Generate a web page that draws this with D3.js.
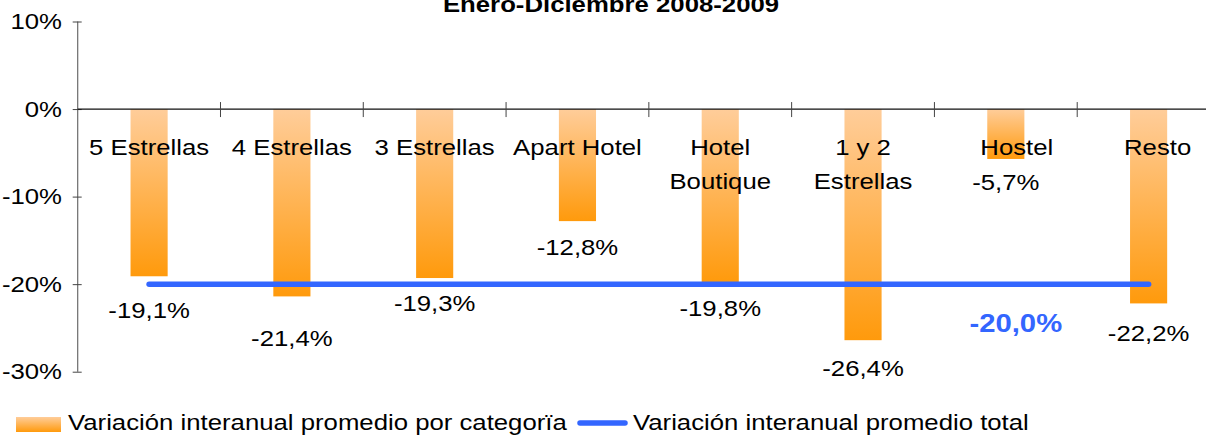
<!DOCTYPE html>
<html>
<head>
<meta charset="utf-8">
<script src="https://cdn.jsdelivr.net/npm/d3@7/dist/d3.min.js"></script>
<style>
  html, body { margin: 0; padding: 0; background: #fff; }
  svg { display: block; }
  text { font-family: "Liberation Sans", Arial, Helvetica, sans-serif; }
</style>
</head>
<body>
<script>
// ---------- data ----------
const title = "Enero-Diciembre 2008-2009";
const categories = ["5 Estrellas", "4 Estrellas", "3 Estrellas", "Apart Hotel", "Hotel\nBoutique", "1 y 2\nEstrellas", "Hostel", "Resto"];
const values = [-19.1, -21.4, -19.3, -12.8, -19.8, -26.4, -5.7, -22.2];
const totalValue = -20.0;
const yTicks = [10, 0, -10, -20, -30];
const legendLabels = ["Variación interanual promedio por categorïa", "Variación interanual promedio total"];

// ---------- layout ----------
const W = 1206, H = 435;
const SX = 1.17;               // horizontal text stretch seen in the reference
const labelDy = [34, 42, 25, 26, 26, 28, 23, 30];
const catDx = [0, 0, 0, 0, 0, 0, 11, 9];
const fmt = v => (v < 0 ? "-" : "") + Math.abs(v).toFixed(1).replace(".", ",") + "%";

const svg = d3.select("body").append("svg").attr("width", W).attr("height", H);

const defs = svg.append("defs");
const grad = defs.append("linearGradient").attr("id", "barGrad")
  .attr("x1", 0).attr("y1", 0).attr("x2", 0).attr("y2", 1);
grad.append("stop").attr("offset", "0%").attr("stop-color", "#FFCD9A");
grad.append("stop").attr("offset", "100%").attr("stop-color", "#FF9A0C");

const y = d3.scaleLinear().domain([-30, 10]).range([371.7, 21.5]);
const x = d3.scaleBand().domain(categories).range([77.7, 1220]).padding(0);
const bw = x.bandwidth() * 0.26;
const cx = c => x(c) + x.bandwidth() / 2;

function stext(g, px, py, str, size, anchor, weight, fill) {
  return g.append("text")
    .attr("transform", `translate(${px},${py}) scale(${SX},1)`)
    .attr("text-anchor", anchor || "middle")
    .attr("font-size", size)
    .attr("font-weight", weight || "normal")
    .attr("fill", fill || "#000")
    .text(str);
}

// title
stext(svg, 611, 12, title, 22, "middle", "bold");

// y axis
const yAxis = svg.append("g").attr("transform", `translate(${77.7},0)`)
  .call(d3.axisLeft(y).tickValues(yTicks).tickSize(5).tickFormat(""));
yAxis.select(".domain").attr("stroke", "#6b6b6b").attr("stroke-width", 1.2)
  .attr("d", `M0,${y(10)}V${y(-30)}`);
yAxis.selectAll(".tick line").attr("x1", -5).attr("x2", 4).attr("stroke", "#444");
yTicks.forEach(t => {
  stext(svg, 62, y(t), (t < 0 ? "-" : "") + Math.abs(t) + "%", 22, "end").attr("dy", "0.35em");
});

// bars
svg.append("g").selectAll("rect").data(values).join("rect")
  .attr("x", (d, i) => cx(categories[i]) - bw / 2)
  .attr("y", y(0))
  .attr("width", bw)
  .attr("height", d => y(d) - y(0))
  .attr("fill", "url(#barGrad)");

// x axis line and boundary ticks
const xAxis = svg.append("g");
xAxis.append("line").attr("x1", 77.7).attr("x2", 1220).attr("y1", y(0)).attr("y2", y(0))
  .attr("stroke", "#111").attr("stroke-width", 1.2);
const edges = categories.map(c => x(c)).slice(1);
xAxis.selectAll("line.tk").data(edges).join("line").attr("class", "tk")
  .attr("x1", d => d).attr("x2", d => d)
  .attr("y1", y(0) - 7).attr("y2", y(0) + 8)
  .attr("stroke", "#444");

// category labels
categories.forEach((c, i) => {
  const lines = c.split("\n");
  lines.forEach((ln, j) => {
    stext(svg, cx(c) + catDx[i], 155 + j * 34, ln, 22, "middle");
  });
});

// total line
const lineGen = d3.line().x(d => cx(d)).y(() => y(totalValue));
svg.append("path").datum([categories[0], categories[categories.length - 1]])
  .attr("d", lineGen)
  .attr("fill", "none").attr("stroke", "#3366FF").attr("stroke-width", 5.5)
  .attr("stroke-linecap", "round");

// value labels
values.forEach((v, i) => {
  stext(svg, cx(categories[i]), y(v) + labelDy[i], fmt(v), 22, "middle").attr("dy", "0.35em");
});
stext(svg, cx(categories[6]) + 10, y(totalValue) + 39, fmt(totalValue), 25, "middle", "bold", "#3366FF")
  .attr("dy", "0.35em");

// legend
const lg = svg.append("g");
lg.append("rect").attr("x", 16).attr("y", 417).attr("width", 45).attr("height", 15)
  .attr("fill", "url(#barGrad)");
stext(lg, 68, 430, legendLabels[0], 22, "start");
lg.append("line").attr("x1", 580).attr("x2", 625).attr("y1", 423).attr("y2", 423)
  .attr("stroke", "#3366FF").attr("stroke-width", 5.5).attr("stroke-linecap", "round");
stext(lg, 633, 430, legendLabels[1], 22, "start");
</script>
</body>
</html>
